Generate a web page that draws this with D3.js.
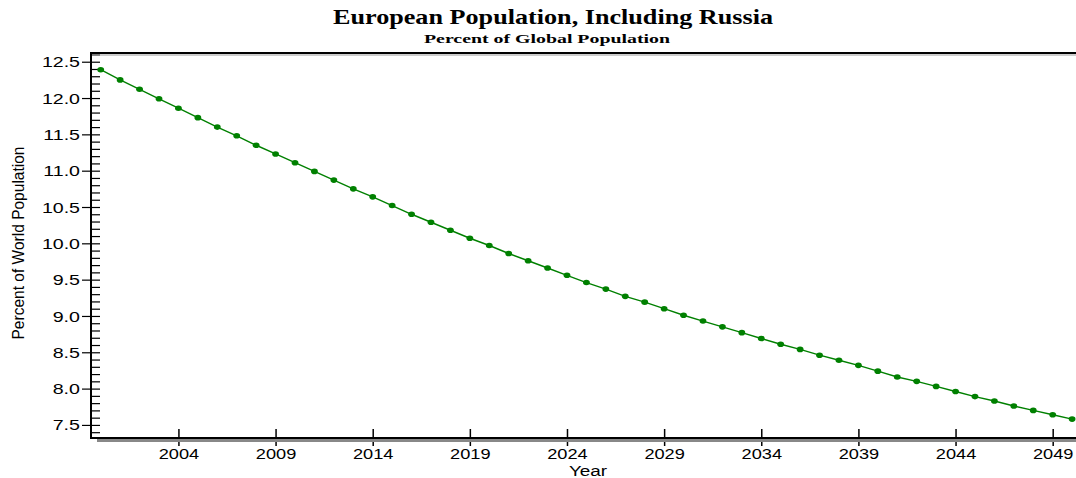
<!DOCTYPE html>
<html>
<head>
<meta charset="utf-8">
<script src="https://d3js.org/d3.v7.min.js"></script>
<style>
  * { margin:0; padding:0; box-sizing:border-box; }
  body { background:#fff; overflow:hidden; }
  svg { display:block; }
  .tick text { font-family:'Liberation Sans',Arial,sans-serif; font-size:14px; fill:#000; }
</style>
</head>
<body>
<svg id="chart" width="1076" height="478"></svg>
<script>
// ── Data ─────────────────────────────────────────────────────────────────────
var years = [
  2000, 2001, 2002, 2003, 2004, 2005, 2006, 2007, 2008, 2009,
  2010, 2011, 2012, 2013, 2014, 2015, 2016, 2017, 2018, 2019,
  2020, 2021, 2022, 2023, 2024, 2025, 2026, 2027, 2028, 2029,
  2030, 2031, 2032, 2033, 2034, 2035, 2036, 2037, 2038, 2039,
  2040, 2041, 2042, 2043, 2044, 2045, 2046, 2047, 2048, 2049, 2050
];
var europeShare = [
  12.39, 12.25, 12.12, 11.99, 11.86, 11.73, 11.60, 11.48, 11.35, 11.23,
  11.11, 10.99, 10.87, 10.75, 10.64, 10.52, 10.40, 10.29, 10.18, 10.07,
   9.97,  9.86,  9.76,  9.66,  9.56,  9.46,  9.37,  9.27,  9.19,  9.10,
   9.01,  8.93,  8.85,  8.77,  8.69,  8.61,  8.54,  8.46,  8.39,  8.32,
   8.24,  8.16,  8.10,  8.03,  7.96,  7.89,  7.83,  7.76,  7.70,  7.64, 7.58
];
var xTickYears = [2004, 2009, 2014, 2019, 2024, 2029, 2034, 2039, 2044, 2049];
var yTickValues = [7.5, 8.0, 8.5, 9.0, 9.5, 10.0, 10.5, 11.0, 11.5, 12.0, 12.5];

var titleText    = "European Population, Including Russia";
var subtitleText = "Percent of Global Population";
var xLabel       = "Year";
var yLabel       = "Percent of World Population";

// ── Layout ───────────────────────────────────────────────────────────────────
var L = 91, R = 1076, T = 53, B = 438;
var STRETCH = 1.35;   // the source fonts are drawn wide

var svg = d3.select("#chart");

var x = d3.scaleLinear().domain([1999.5, 2050.2]).range([L, R]);
var y = d3.scaleLinear().domain([7.32, 12.62]).range([B, T]);

function stretch(sel, factor) {
  sel.each(function() {
    var w = this.getComputedTextLength();
    this.setAttribute("textLength", (w * factor).toFixed(1));
    this.setAttribute("lengthAdjust", "spacingAndGlyphs");
  });
}

// ── Titles ───────────────────────────────────────────────────────────────────
svg.append("text")
  .attr("x", 553).attr("y", 24)
  .attr("text-anchor", "middle")
  .attr("font-family", "'Liberation Serif','Times New Roman',serif")
  .attr("font-weight", "bold").attr("font-size", 21)
  .attr("textLength", 440).attr("lengthAdjust", "spacingAndGlyphs")
  .text(titleText);

svg.append("text")
  .attr("x", 547).attr("y", 43)
  .attr("text-anchor", "middle")
  .attr("font-family", "'Liberation Serif','Times New Roman',serif")
  .attr("font-weight", "bold").attr("font-size", 12)
  .attr("textLength", 246).attr("lengthAdjust", "spacingAndGlyphs")
  .text(subtitleText);

// ── Y axis: outward major ticks with labels, inward minor ticks ─────────────
var yAxisG = svg.append("g")
  .attr("transform", "translate(" + L + ",0)")
  .call(d3.axisLeft(y).tickValues(yTickValues).tickSize(9).tickPadding(2)
    .tickFormat(d3.format(".1f")));
yAxisG.select(".domain").remove();
yAxisG.selectAll(".tick line").attr("stroke", "#000").attr("stroke-width", 1.2);
yAxisG.selectAll(".tick text").attr("dy", "0.36em");
stretch(yAxisG.selectAll(".tick text"), 1.4);

var minorY = d3.range(74, 127).map(function(v) { return v / 10; });
var yMinorG = svg.append("g")
  .attr("transform", "translate(" + L + ",0)")
  .call(d3.axisRight(y).tickValues(minorY).tickSize(9).tickFormat(""));
yMinorG.select(".domain").remove();
yMinorG.selectAll(".tick line").attr("stroke", "#000").attr("stroke-width", 1.2);

// ── X axis: ticks cross the axis line ────────────────────────────────────────
var xAxisG = svg.append("g")
  .attr("transform", "translate(0," + B + ")")
  .call(d3.axisBottom(x).tickValues(xTickYears).tickSize(8).tickFormat(d3.format("d")));
xAxisG.select(".domain").remove();
xAxisG.selectAll(".tick line").attr("stroke", "#000").attr("stroke-width", 1.5);
xAxisG.selectAll(".tick text").attr("y", 21).attr("dy", 0);
stretch(xAxisG.selectAll(".tick text"), 1.3);

var xUpG = svg.append("g")
  .attr("transform", "translate(0," + B + ")")
  .call(d3.axisTop(x).tickValues(xTickYears).tickSize(9).tickFormat(""));
xUpG.select(".domain").remove();
xUpG.selectAll(".tick line").attr("stroke", "#000").attr("stroke-width", 1.5);

// ── Frame lines (with grey shadow) ───────────────────────────────────────────
svg.append("line").attr("x1", L).attr("x2", R).attr("y1", T + 2).attr("y2", T + 2)
  .attr("stroke", "#999").attr("stroke-width", 1);
svg.append("line").attr("x1", L).attr("x2", R).attr("y1", T).attr("y2", T)
  .attr("stroke", "#000").attr("stroke-width", 2);
svg.append("line").attr("x1", L + 6).attr("x2", R).attr("y1", B + 2.5).attr("y2", B + 2.5)
  .attr("stroke", "#888").attr("stroke-width", 3);
svg.append("line").attr("x1", L).attr("x2", R).attr("y1", B).attr("y2", B)
  .attr("stroke", "#000").attr("stroke-width", 2);
svg.append("line").attr("x1", L).attr("x2", L).attr("y1", T - 1).attr("y2", B + 1)
  .attr("stroke", "#000").attr("stroke-width", 2);

// ── Axis titles ──────────────────────────────────────────────────────────────
var yTitle = svg.append("text")
  .attr("transform", "translate(24,243) rotate(-90)")
  .attr("text-anchor", "middle")
  .attr("font-family", "'Liberation Sans',Arial,sans-serif")
  .attr("font-size", 17)
  .attr("textLength", 193).attr("lengthAdjust", "spacingAndGlyphs")
  .text(yLabel);

var xTitle = svg.append("text")
  .attr("x", 588).attr("y", 476)
  .attr("text-anchor", "middle")
  .attr("font-family", "'Liberation Sans',Arial,sans-serif")
  .attr("font-size", 14)
  .text(xLabel);
stretch(xTitle, STRETCH);

// ── Series ───────────────────────────────────────────────────────────────────
var points = years.map(function(yr, i) { return { year: yr, value: europeShare[i] }; });

svg.append("path")
  .datum(points)
  .attr("fill", "none")
  .attr("stroke", "#008000")
  .attr("stroke-width", 1.4)
  .attr("d", d3.line()
    .x(function(d) { return x(d.year); })
    .y(function(d) { return y(d.value); }));

svg.append("g").selectAll("ellipse")
  .data(points)
  .join("ellipse")
  .attr("cx", function(d) { return x(d.year); })
  .attr("cy", function(d) { return y(d.value); })
  .attr("rx", 3.4).attr("ry", 2.8)
  .attr("fill", "#008000");
</script>
</body>
</html>
